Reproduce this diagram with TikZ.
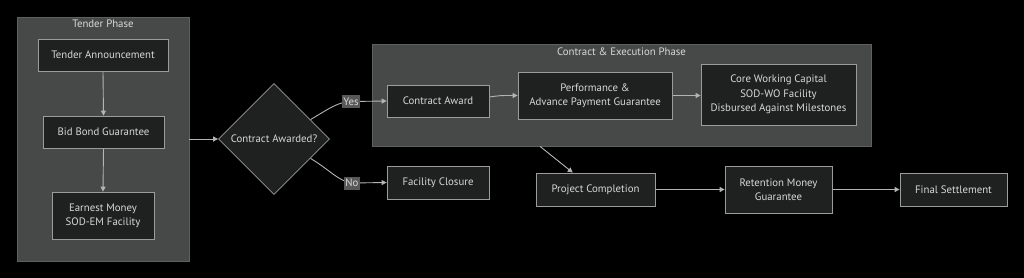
\documentclass[tikz,border=0pt]{standalone}
\usepackage{fontspec}
\setmainfont{PT Sans}
\usetikzlibrary{shapes.geometric,arrows.meta,calc}
\definecolor{bg}{HTML}{000000}
\definecolor{clusterfill}{HTML}{474949}
\definecolor{clusterline}{HTML}{5E6060}
\definecolor{nodefill}{HTML}{1F2020}
\definecolor{nodeline}{HTML}{9C9C9C}
\definecolor{txt}{HTML}{D8D8D8}
\definecolor{edgecol}{HTML}{B4B4B4}
\definecolor{lblfill}{HTML}{585858}
\pgfdeclarelayer{background}
\pgfdeclarelayer{edges}
\pgfsetlayers{background,edges,main}
\tikzset{
  box/.style={draw=nodeline, fill=nodefill, line width=0.8pt, text=txt, align=center,
    font=\fontsize{10.8}{14.3}\selectfont, inner sep=0pt, anchor=center},
  cluster/.style={draw=clusterline, fill=clusterfill, line width=0.8pt, inner sep=0pt},
  ctitle/.style={text=txt, font=\fontsize{10.8}{12}\selectfont, inner sep=0pt},
  decision/.style={diamond, draw=nodeline, fill=nodefill, line width=0.8pt, text=txt,
    font=\fontsize{10.8}{12}\selectfont, inner sep=0pt, aspect=1, minimum width=111pt, minimum height=111pt},
  edge/.style={draw=edgecol, line width=0.9pt, -{Triangle[length=5pt,width=5pt]}},
  elabel/.style={fill=lblfill, text=txt, font=\fontsize{10.8}{12}\selectfont, inner sep=1.2pt, minimum height=13pt}
}
\begin{document}
\begin{tikzpicture}[x=1pt,y=-1pt]
\useasboundingbox (0,0) rectangle (1024,278);
\begin{pgfonlayer}{background}
\fill[bg] (0,0) rectangle (1024,278);
\node[cluster, minimum width=172pt, minimum height=244pt] (tp) at (103,139) {};
\node[cluster, minimum width=499pt, minimum height=102pt] (ce) at (621.5,95) {};
\end{pgfonlayer}
\node[ctitle] (tpt) at (103,24) {Tender Phase};
\node[ctitle] (cet) at (621.5,51.5) {Contract \& Execution Phase};

\node[box, minimum width=130pt, minimum height=32pt] (ta) at (103,55) {Tender Announcement};
\node[box, minimum width=121pt, minimum height=32pt] (bb) at (103.5,132) {Bid Bond Guarantee};
\node[box, minimum width=102pt, minimum height=47pt] (em) at (103,215.5) {Earnest Money\\SOD-EM Facility};
\node[decision] (dia) at (274,139) {Contract Awarded?};
\node[box, minimum width=102pt, minimum height=32pt] (ca) at (438,101) {Contract Award};
\node[box, minimum width=154pt, minimum height=47pt] (pa) at (595,95.5) {Performance \&\\Advance Payment Guarantee};
\node[box, minimum width=155pt, minimum height=61pt] (cw) at (778.5,94.5) {Core Working Capital\\SOD-WO Facility\\Disbursed Against Milestones};
\node[box, minimum width=102pt, minimum height=33pt] (fc) at (438,182.5) {Facility Closure};
\node[box, minimum width=119pt, minimum height=33pt] (pc) at (595.5,189.5) {Project Completion};
\node[box, minimum width=107pt, minimum height=47pt] (rm) at (778.5,189.5) {Retention Money\\Guarantee};
\node[box, minimum width=107pt, minimum height=33pt] (fs) at (953.5,189.5) {Final Settlement};
\node[elabel] (yes) at (351,101.5) {Yes};
\node[elabel] (no) at (352,183) {No};

\begin{pgfonlayer}{edges}
\draw[edge] (ta.south) -- (bb.north);
\draw[edge] (bb.south) -- (em.north);
\draw[edge] (tp.east |- dia.west) -- (dia.west);
\draw[edge] (dia.28) .. controls (330,108) and (338,102) .. (yes.center) -- (ca.west);
\draw[edge] (dia.-28) .. controls (330,170) and (338,181) .. (no.center) -- (fc.west);
\draw[edge] ([yshift=4pt]ca.east) .. controls (500,95.5) .. (pa.west);
\draw[edge] (pa.east) -- (pa.east -| cw.west);
\draw[edge] ($(ce.south west)!0.337!(ce.south east)$) -- ($(pc.north west)!0.31!(pc.north east)$);
\draw[edge] (pc.east) -- (rm.west);
\draw[edge] (rm.east) -- (fs.west);
\end{pgfonlayer}
\end{tikzpicture}
\end{document}
